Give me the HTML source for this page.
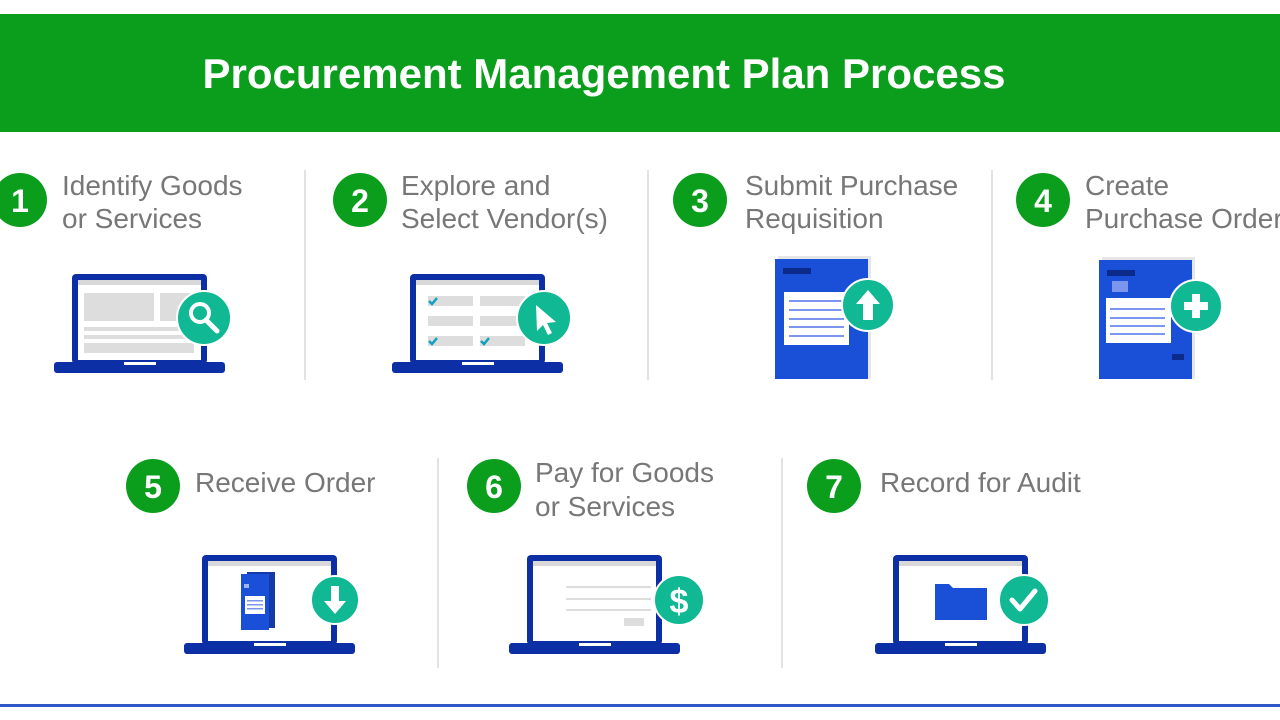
<!DOCTYPE html>
<html><head><meta charset="utf-8"><style>
html,body{margin:0;padding:0;background:#fff;width:1280px;height:720px;overflow:hidden}
svg{display:block;font-family:"Liberation Sans",Arial,sans-serif}
</style></head><body>
<svg width="1280" height="720" viewBox="0 0 1280 720" xmlns="http://www.w3.org/2000/svg">
<defs>
<g id="lap">
 <rect x="0" y="0" width="135" height="90" rx="4" fill="#0d2fa6"/>
 <rect x="6" y="6" width="123" height="80" fill="#fff"/>
 <rect x="6" y="6" width="123" height="5" fill="#d8d8d8"/>
 <rect x="-18" y="88" width="171" height="11" rx="3" fill="#0d2fa6"/>
 <rect x="52" y="88" width="32" height="3" fill="#fff"/>
</g>
</defs>
<rect x="0" y="14" width="1280" height="118" fill="#0b9e1c"/>
<text x="604" y="88" text-anchor="middle" fill="#fff" font-size="42" font-weight="bold">Procurement Management Plan Process</text>

<g stroke="#e2e2e2" stroke-width="2">
<line x1="305" y1="170" x2="305" y2="380"/><line x1="648" y1="170" x2="648" y2="380"/><line x1="992" y1="170" x2="992" y2="380"/>
<line x1="438" y1="458" x2="438" y2="668"/><line x1="782" y1="458" x2="782" y2="668"/>
</g>

<g fill="#0b9e1c">
<circle cx="20" cy="200" r="27"/><circle cx="360" cy="200" r="27"/><circle cx="700" cy="200" r="27"/><circle cx="1043" cy="200" r="27"/>
<circle cx="153" cy="486" r="27"/><circle cx="494" cy="486" r="27"/><circle cx="834" cy="486" r="27"/>
</g>
<g fill="#fff" font-size="32" font-weight="bold" text-anchor="middle">
<text x="20" y="212">1</text><text x="360" y="212">2</text><text x="700" y="212">3</text><text x="1043" y="212">4</text>
<text x="153" y="498">5</text><text x="494" y="498">6</text><text x="834" y="498">7</text>
</g>
<g fill="#777" font-size="28">
<text x="62" y="195">Identify Goods</text><text x="62" y="228">or Services</text>
<text x="401" y="195">Explore and</text><text x="401" y="228">Select Vendor(s)</text>
<text x="745" y="195">Submit Purchase</text><text x="745" y="228">Requisition</text>
<text x="1085" y="195">Create</text><text x="1085" y="228">Purchase Order</text>
<text x="195" y="492">Receive Order</text>
<text x="535" y="482">Pay for Goods</text><text x="535" y="516">or Services</text>
<text x="880" y="492">Record for Audit</text>
</g>

<!-- 1 -->
<use href="#lap" x="72" y="274"/>
<g fill="#ddd"><rect x="84" y="293" width="70" height="28"/><rect x="160" y="293" width="30" height="28"/>
<rect x="84" y="327" width="110" height="4"/><rect x="84" y="335" width="110" height="4"/><rect x="84" y="343" width="110" height="10"/></g>
<circle cx="204" cy="318" r="27" fill="#10b894" stroke="#fff" stroke-width="2"/>
<circle cx="200" cy="313" r="9" fill="none" stroke="#fff" stroke-width="4"/>
<line x1="206" y1="320" x2="217" y2="331" stroke="#fff" stroke-width="5" stroke-linecap="round"/>
<!-- 2 -->
<use href="#lap" x="410" y="274"/>
<g fill="#ddd"><rect x="428" y="296" width="45" height="10"/><rect x="480" y="296" width="45" height="10"/>
<rect x="428" y="316" width="45" height="10"/><rect x="480" y="316" width="45" height="10"/>
<rect x="428" y="336" width="45" height="10"/><rect x="480" y="336" width="45" height="10"/></g>
<g stroke="#10a0c0" stroke-width="2.5" fill="none"><path d="M429 301l3 3 5-6"/><path d="M429 341l3 3 5-6"/><path d="M481 341l3 3 5-6"/></g>
<circle cx="544" cy="318" r="27" fill="#10b894" stroke="#fff" stroke-width="2"/>
<path d="M536 305 L556 322 L547 323 L552 333 L548 335 L543 325 L537 331 Z" fill="#fff"/>
<!-- 3 -->
<rect x="778" y="256" width="93" height="123" fill="#e6e6e6"/>
<rect x="775" y="259" width="93" height="120" fill="#1a4fd8"/>
<rect x="783" y="268" width="28" height="6" fill="#0c2a8a"/>
<rect x="784" y="292" width="65" height="53" fill="#fff"/>
<g fill="#7c95ee"><rect x="789" y="300" width="55" height="2"/><rect x="789" y="309" width="55" height="2"/><rect x="789" y="318" width="55" height="2"/><rect x="789" y="326" width="55" height="2"/><rect x="789" y="335" width="55" height="2"/></g>
<circle cx="868" cy="305" r="26" fill="#10b894" stroke="#fff" stroke-width="2"/>
<path d="M868 290 L880 304 L873 304 L873 320 L863 320 L863 304 L856 304 Z" fill="#fff"/>
<!-- 4 -->
<rect x="1102" y="257" width="93" height="122" fill="#e6e6e6"/>
<rect x="1099" y="260" width="93" height="119" fill="#1a4fd8"/>
<rect x="1107" y="270" width="28" height="6" fill="#0c2a8a"/>
<rect x="1112" y="281" width="16" height="11" fill="#7c95ee"/>
<rect x="1106" y="298" width="65" height="45" fill="#fff"/>
<g fill="#7c95ee"><rect x="1110" y="308" width="55" height="2"/><rect x="1110" y="317" width="55" height="2"/><rect x="1110" y="325" width="55" height="2"/><rect x="1110" y="333" width="55" height="2"/></g>
<rect x="1172" y="354" width="12" height="6" fill="#0c2a8a"/>
<circle cx="1196" cy="306" r="26" fill="#10b894" stroke="#fff" stroke-width="2"/>
<path d="M1192 294h8v8h8v8h-8v8h-8v-8h-8v-8h8z" fill="#fff"/>
<!-- 5 -->
<use href="#lap" x="202" y="555"/>
<rect x="247" y="572" width="28" height="56" fill="#143aa8"/>
<rect x="241" y="574" width="28" height="56" fill="#1a4fd8"/>
<rect x="244" y="584" width="5" height="4" fill="#9fb4f5"/>
<rect x="245" y="596" width="20" height="18" fill="#fff"/>
<g fill="#7c95ee"><rect x="247" y="600" width="16" height="1.5"/><rect x="247" y="604" width="16" height="1.5"/><rect x="247" y="608" width="16" height="1.5"/></g>
<circle cx="335" cy="600" r="24" fill="#10b894" stroke="#fff" stroke-width="2"/>
<path d="M335 614 L346 601 L339 601 L339 586 L331 586 L331 601 L324 601 Z" fill="#fff"/>
<!-- 6 -->
<use href="#lap" x="527" y="555"/>
<g fill="#ddd"><rect x="566" y="586" width="85" height="2"/><rect x="566" y="598" width="85" height="2"/><rect x="566" y="609" width="85" height="2"/><rect x="624" y="618" width="20" height="8"/></g>
<circle cx="679" cy="600" r="25" fill="#10b894" stroke="#fff" stroke-width="2"/>
<text x="679" y="613" text-anchor="middle" fill="#fff" font-size="34" font-weight="bold">$</text>
<!-- 7 -->
<use href="#lap" x="893" y="555"/>
<path d="M935 584h14l4 4h34v32h-52z" fill="#1a4fd8"/>
<circle cx="1024" cy="600" r="25" fill="#10b894" stroke="#fff" stroke-width="2"/>
<path d="M1012 600 l8 9 l15 -18" fill="none" stroke="#fff" stroke-width="5" stroke-linecap="round" stroke-linejoin="round"/>

<rect x="0" y="704" width="1280" height="3" fill="#2f57c6"/>
</svg>
</body></html>
